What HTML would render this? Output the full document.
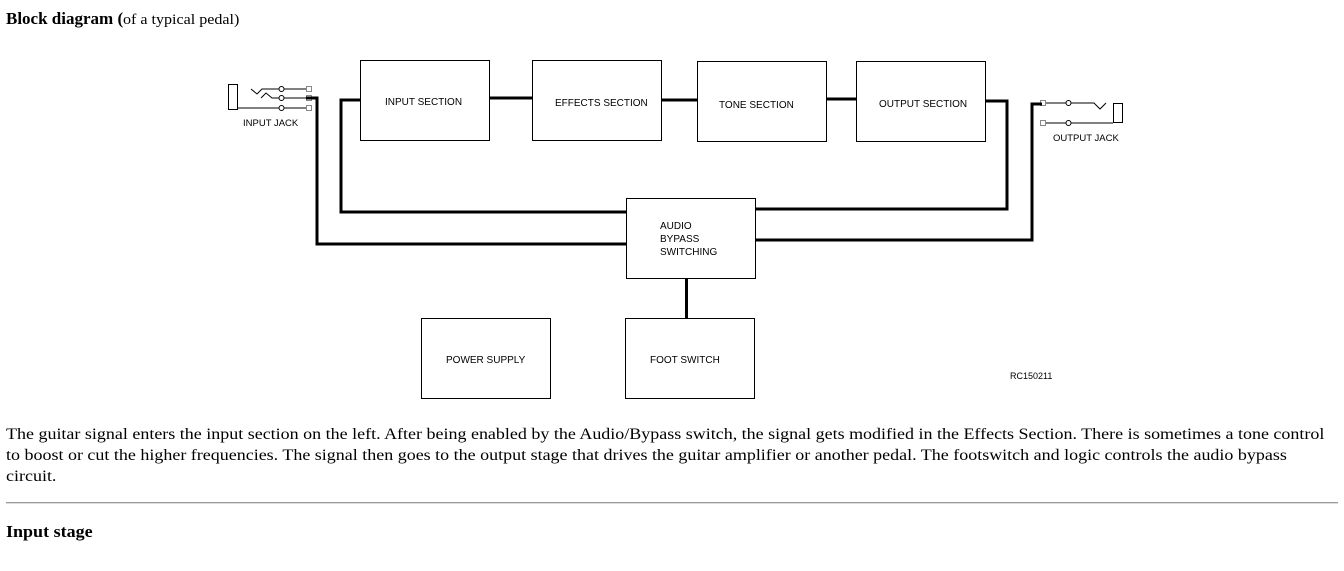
<!DOCTYPE html>
<html><head><style>
body{margin:0;background:#fff;width:1344px;height:571px;position:relative;overflow:hidden;font-family:"Liberation Serif",serif;color:#000}
.t{position:absolute;white-space:nowrap;font-size:16px;line-height:21px}
.s{transform:scaleX(1.124);transform-origin:0 0}
svg text{font-family:"Liberation Sans",sans-serif;font-size:10px}
</style></head><body>
<div class="t" style="left:6px;top:8px;font-size:17px"><b>Block diagram (</b><span style="font-size:15px;display:inline-block;transform:scaleX(1.07);transform-origin:0 0">of a typical pedal)</span></div>
<svg style="position:absolute;left:0;top:0" width="1344" height="420">
<g fill="none" stroke="#000" stroke-width="1">
<rect x="360.5" y="60.5" width="129" height="80"/>
<rect x="532.5" y="60.5" width="129" height="80"/>
<rect x="697.5" y="61.5" width="129" height="80"/>
<rect x="856.5" y="61.5" width="129" height="80"/>
<rect x="626.5" y="198.5" width="129" height="80"/>
<rect x="625.5" y="318.5" width="129" height="80"/>
<rect x="421.5" y="318.5" width="129" height="80"/>
<rect x="228.5" y="84.5" width="9" height="25"/>
<polyline points="251,89 257,94 262,89 279,89"/>
<polyline points="261,98 266,93 272,98 279,98"/>
<line x1="237" y1="108" x2="279" y2="108"/>
<circle cx="281.5" cy="89" r="2.5"/><circle cx="281.5" cy="98" r="2.5"/><circle cx="281.5" cy="108" r="2.5"/>
<line x1="284" y1="89" x2="306" y2="89"/><line x1="284" y1="98" x2="306" y2="98"/><line x1="284" y1="108" x2="306" y2="108"/>
<rect x="1113.5" y="103.5" width="9" height="19"/>
<polyline points="1046,103 1066,103"/><circle cx="1068.5" cy="103" r="2.5"/>
<polyline points="1071,103 1094,103 1100,109 1106,103"/>
<line x1="1046" y1="123" x2="1066" y2="123"/><circle cx="1068.5" cy="123" r="2.5"/><line x1="1071" y1="123" x2="1113" y2="123"/>
</g>
<g fill="none" stroke="#888" stroke-width="1">
<rect x="306.5" y="86.5" width="5" height="5"/><rect x="306.5" y="95.5" width="5" height="5"/><rect x="306.5" y="105.5" width="5" height="5"/>
<rect x="1040.5" y="100.5" width="5" height="5"/><rect x="1040.5" y="120.5" width="5" height="5"/>
</g>
<g fill="none" stroke="#000" stroke-width="3">
<polyline points="306,98 317,98 317,244 626,244"/>
<polyline points="360,100 341,100 341,212 626,212"/>
<line x1="490" y1="98" x2="532" y2="98"/>
<line x1="661" y1="100" x2="697" y2="100"/>
<line x1="826" y1="99" x2="856" y2="99"/>
<polyline points="985,101 1007,101 1007,209 755,209"/>
<polyline points="1042,104 1032,104 1032,240 755,240"/>
<line x1="686.5" y1="278" x2="686.5" y2="318"/>
</g>
<text x="385" y="105">INPUT SECTION</text>
<text x="555" y="106">EFFECTS SECTION</text>
<text x="719" y="108">TONE SECTION</text>
<text x="879" y="107">OUTPUT SECTION</text>
<text x="660" y="229">AUDIO</text>
<text x="660" y="242">BYPASS</text>
<text x="660" y="255">SWITCHING</text>
<text x="650" y="363">FOOT SWITCH</text>
<text x="446" y="363">POWER SUPPLY</text>
<text x="243" y="126" style="font-size:9.5px">INPUT JACK</text>
<text x="1053" y="141" style="font-size:9.5px">OUTPUT JACK</text>
<text x="1010" y="379" style="font-size:9px">RC150211</text>
</svg>
<div class="t s" style="left:6px;top:424px">The guitar signal enters the input section on the left. After being enabled by the Audio/Bypass switch, the signal gets modified in the Effects Section. There is sometimes a tone control</div>
<div class="t s" style="left:6px;top:445px">to boost or cut the higher frequencies. The signal then goes to the output stage that drives the guitar amplifier or another pedal. The footswitch and logic controls the audio bypass</div>
<div class="t s" style="left:6px;top:466px">circuit.</div>
<div style="position:absolute;left:6px;top:502px;width:1332px;height:0;border-top:1px solid #999;border-bottom:1px solid #ddd"></div>
<div class="t" style="left:6px;top:521px;font-size:17px"><b style="display:inline-block;transform:scaleX(1.06);transform-origin:0 0">Input stage</b></div>
</body></html>
